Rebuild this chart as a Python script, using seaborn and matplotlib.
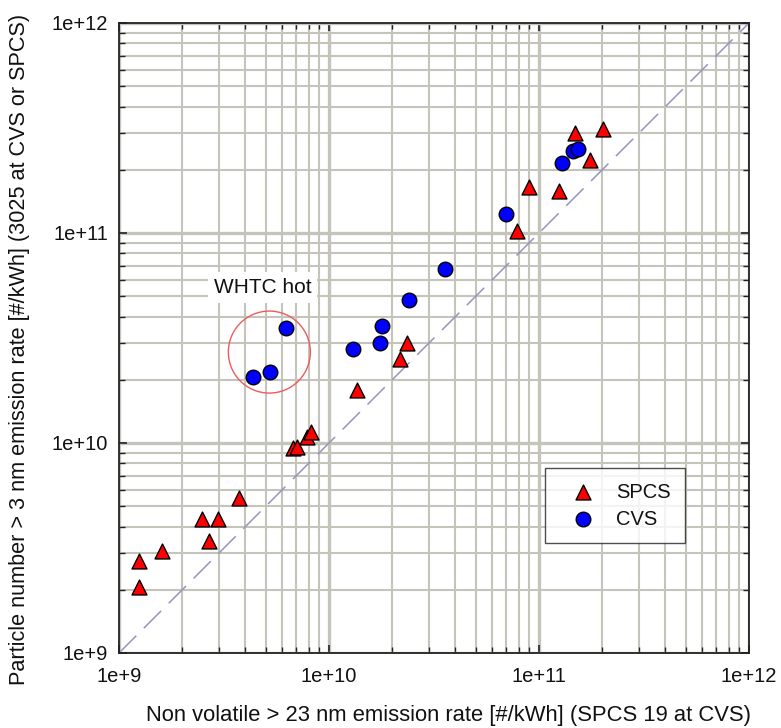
import numpy as np
import pandas as pd
import matplotlib
matplotlib.use("Agg")
import matplotlib.pyplot as plt
from matplotlib.patches import Circle
from matplotlib.ticker import FixedLocator, FixedFormatter, LogLocator, NullFormatter
import seaborn as sns

# ---------------- data ----------------
spcs_x = [1.245e9, 1.245e9, 1.60e9, 2.68e9, 2.48e9, 2.96e9, 3.73e9, 6.74e9, 7.04e9,
          7.86e9, 8.21e9, 1.36e10, 2.18e10, 2.36e10, 7.86e10, 8.96e10, 1.245e11,
          1.75e11, 1.48e11, 2.02e11]
spcs_y = [2.06e9, 2.74e9, 3.06e9, 3.41e9, 4.35e9, 4.35e9, 5.47e9, 9.47e9, 9.57e9,
          1.068e10, 1.128e10, 1.79e10, 2.51e10, 2.99e10, 1.022e11, 1.656e11, 1.585e11,
          2.23e11, 2.99e11, 3.13e11]
cvs_x = [4.35e9, 5.24e9, 6.24e9, 1.30e10, 1.75e10, 1.79e10, 2.40e10, 3.57e10,
         6.97e10, 1.29e11, 1.45e11, 1.53e11]
cvs_y = [2.06e10, 2.18e10, 3.53e10, 2.80e10, 2.99e10, 3.61e10, 4.80e10, 6.74e10,
         1.23e11, 2.15e11, 2.46e11, 2.51e11]

series_names = ["SPCS", "CVS"]
tick_values = [1e9, 1e10, 1e11, 1e12]
tick_labels = ["1e+9", "1e+10", "1e+11", "1e+12"]
diag = [1e9, 1e12]
whtc_center = (5.2e9, 2.71e10)
whtc_text_pos = (4.82e9, 5.5e10)
whtc_label = "WHTC hot"
xlabel = "Non volatile > 23 nm emission rate [#/kWh] (SPCS 19 at CVS)"
ylabel = "Particle number > 3 nm emission rate [#/kWh] (3025 at CVS or SPCS)"

df_spcs = pd.DataFrame({"x": spcs_x, "y": spcs_y, "series": series_names[0]})
df_cvs = pd.DataFrame({"x": cvs_x, "y": cvs_y, "series": series_names[1]})

# ---------------- style ----------------
sns.set_theme(style="white")
plt.rcParams["font.family"] = ["Liberation Sans", "DejaVu Sans"]

fig = plt.figure(figsize=(7.81, 7.28), dpi=100)
ax = fig.add_axes([119 / 781, 1 - 653 / 728, 630 / 781, 630 / 728])
ax.set_xscale("log")
ax.set_yscale("log")
ax.set_xlim(tick_values[0], tick_values[-1])
ax.set_ylim(tick_values[0], tick_values[-1])

grid_col = "#c4c4ba"
ax.set_axisbelow(True)
ax.grid(True, which="major", color=grid_col, linewidth=2.4)
ax.grid(True, which="minor", color=grid_col, linewidth=1.5)

# diagonal 1:1
sns.lineplot(x=diag, y=diag, ax=ax, color="#9494bc", linewidth=1.1,
             dashes=False, zorder=2)
ax.lines[-1].set_dashes((16, 7))

# WHTC hot circle
cx, cy = ax.transAxes.inverted().transform(ax.transData.transform(whtc_center))
ax.add_patch(Circle((cx, cy), 41 / 630, transform=ax.transAxes, fill=False,
                    edgecolor="#f05a5a", linewidth=1.0, zorder=2.5))
ax.text(whtc_text_pos[0], whtc_text_pos[1], whtc_label, fontsize=15,
        ha="center", va="center", color="#111111", zorder=3,
        bbox=dict(facecolor="white", edgecolor="none", pad=4))

sns.scatterplot(data=df_spcs, x="x", y="y", ax=ax, marker="^", s=115,
                color="#ff0000", edgecolor="black", linewidth=1.0,
                label=series_names[0], zorder=4)
sns.scatterplot(data=df_cvs, x="x", y="y", ax=ax, marker="o", s=110,
                color="#0000ff", edgecolor="black", linewidth=1.0,
                label=series_names[1], zorder=4)

# ticks
for axis in (ax.xaxis, ax.yaxis):
    axis.set_major_locator(FixedLocator(tick_values))
    axis.set_major_formatter(FixedFormatter(tick_labels))
    axis.set_minor_locator(LogLocator(base=10, subs=np.arange(2, 10)))
    axis.set_minor_formatter(NullFormatter())
ax.tick_params(which="both", direction="in", top=True, right=True,
               bottom=True, left=True, color="#222222")
ax.tick_params(which="major", length=6, width=1.2, labelsize=14.5, pad=8,
               labelcolor="#111111")
ax.tick_params(which="minor", length=4, width=1.0)
ax.tick_params(axis="x", which="major", pad=10)

for sp in ax.spines.values():
    sp.set_color("#222222")
    sp.set_linewidth(1.3)

ax.set_xlabel(xlabel, fontsize=15.8, color="#111111")
ax.set_ylabel(ylabel, fontsize=15.6, color="#111111")
ax.xaxis.set_label_coords((448 - 119) / 630, -(715 - 653) / 630)
ax.yaxis.set_label_coords(-(119 - 20) / 630, (653 - 349) / 630)
ax.xaxis.label.set_va("center")
ax.yaxis.label.set_va("center")

leg = ax.legend(loc="upper left", bbox_to_anchor=((545 - 119) / 630, (653 - 468) / 630),
                fontsize=14.5, frameon=True, fancybox=False, borderpad=0.72,
                handlelength=2.3, handletextpad=0.5, labelspacing=0.4,
                borderaxespad=0, markerscale=1.0)
leg.get_frame().set_edgecolor("#222222")
leg.get_frame().set_linewidth(1.0)
for t in leg.get_texts():
    t.set_color("#111111")

fig.savefig("out.png", dpi=100)
